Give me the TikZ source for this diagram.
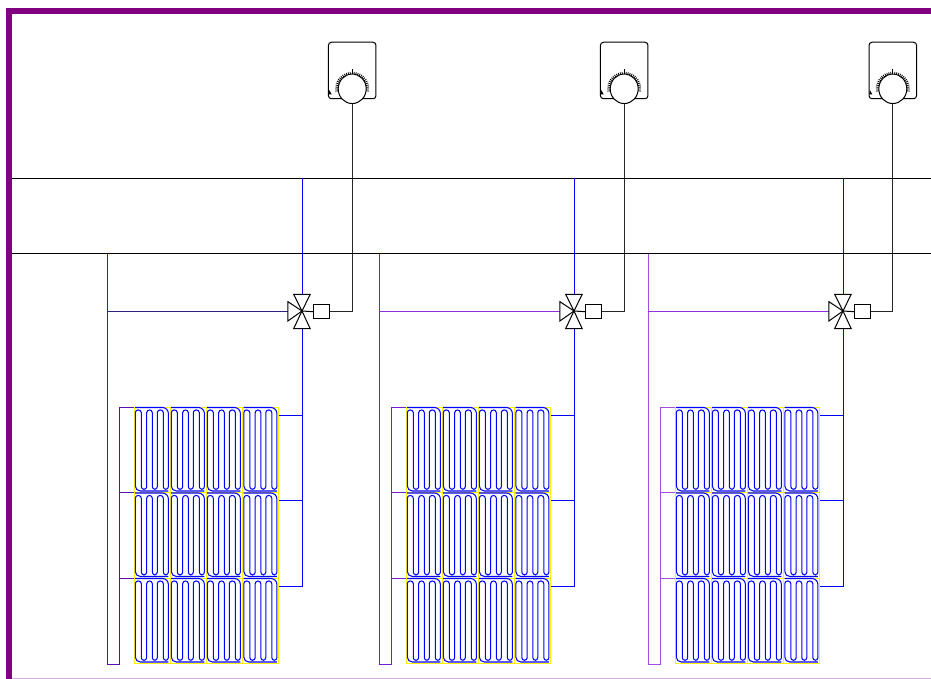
\documentclass[tikz,border=0pt]{standalone}
\usetikzlibrary{shapes.geometric}
\definecolor{frame}{HTML}{800080}
\definecolor{framelight}{HTML}{D8A8E8}
\definecolor{pipeblue}{HTML}{0000FF}
\definecolor{coilblue}{HTML}{0000FF}
\definecolor{mana}{HTML}{5A10B0}
\definecolor{manb}{HTML}{7020D0}
\definecolor{manc}{HTML}{A050E0}
\definecolor{feeda}{HTML}{302080}
\definecolor{feedb}{HTML}{9030E0}
\tikzset{
  busline/.style={black,line width=0.8pt},
  pipe/.style={pipeblue,line width=1.1pt},
  coil/.style={coilblue,line width=1.05pt},
  cellbox/.style={draw=yellow,line width=1pt},
  ctrl/.style={black!85,line width=1.15pt},
  valvepart/.style={draw=black,line width=1pt,fill=white},
  actuator/.style={draw=black,line width=1pt,fill=white,minimum width=16pt,minimum height=13.5pt,inner sep=0pt},
  statbox/.style={draw=black,line width=1pt,rounded corners=3pt,fill=white,minimum width=47.5pt,minimum height=56.5pt,inner sep=0pt},
  knob/.style={ellipse,draw=black,line width=1pt,fill=white,minimum width=28pt,minimum height=29.5pt,inner sep=0pt},
}
\newcommand{\coilcell}[2]{%
  \begin{scope}[shift={(#1,#2)}]
    \draw[cellbox] (0,0) rectangle (36,85.5);
    \draw[coil,line join=round]
      (34.4,84) [rounded corners=5pt] -- (1.3,84) [rounded corners=2.7pt]
      -- (1.3,3) -- (7.3,3) -- (7.3,82.3) -- (12.7,82.3) -- (12.7,3) -- (18.3,3)
      -- (18.3,82.3) -- (23.3,82.3) -- (23.3,3) -- (29.3,3) -- (29.3,82.3)
      -- (34.4,82.3) [rounded corners=6pt] -- (34.4,0.5) -- (1,0.5);
  \end{scope}}
\begin{document}
\begin{tikzpicture}[x=1pt,y=-1pt]
  \useasboundingbox (0,0) rectangle (931,679);
  \fill[white] (0,0) rectangle (931,679);
  % frame
  \coordinate (frameTL) at (9,11);
  \coordinate (frameTR) at (931,11);
  \coordinate (frameBL) at (9,679);
  \coordinate (bottomL) at (12,678.3);
  \coordinate (bottomR) at (931,678.3);
  \draw[framelight,line width=1pt] (bottomL) -- (bottomR);
  % bus lines
  \coordinate (busAL) at (12,178);
  \coordinate (busAR) at (931,178);
  \coordinate (busBL) at (12,253.5);
  \coordinate (busBR) at (931,253.5);
  \draw[busline] (busAL) -- (busAR);
  \draw[busline] (busBL) -- (busBR);
  \foreach \i/\dx/\tdx/\mancol/\feedcol in {1/0/0/mana/feeda,2/272/272/manb/feedb,3/541/540.6/manc/feedb}{
    \begin{scope}[xshift=\dx pt]
      % named points
      \coordinate (supTop\i) at (107.3,253.5);
      \coordinate (supBot\i) at (107.3,664.5);
      \coordinate (retBot\i) at (119.7,664.5);
      \coordinate (retTop\i) at (119.7,407.4);
      \coordinate (row1L\i) at (134,407.4);
      \coordinate (ret2\i) at (119.7,492.5);
      \coordinate (row2L\i) at (134,492.5);
      \coordinate (ret3\i) at (119.7,578.5);
      \coordinate (row3L\i) at (134,578.5);
      \coordinate (feed\i) at (107.3,311.7);
      \coordinate (riserTop\i) at (302.4,178);
      \coordinate (vc\i) at (302,311);
      \coordinate (vTop\i) at (302.4,294.3);
      \coordinate (vBot\i) at (302.4,328.7);
      \coordinate (vLeft\i) at (287.7,311.7);
      \coordinate (m1\i) at (302.4,415.5);
      \coordinate (m2\i) at (302.4,500.5);
      \coordinate (m3\i) at (302.4,586.5);
      \coordinate (o1\i) at (278.5,415.5);
      \coordinate (o2\i) at (278.5,500.5);
      \coordinate (o3\i) at (278.5,586.5);
      % supply and return manifold
      \draw[\mancol,line width=1.05pt,line join=miter] (supTop\i) -- (supBot\i) -- (retBot\i) -- (retTop\i) -- (row1L\i);
      \draw[\mancol,line width=1.05pt] (ret2\i) -- (row2L\i);
      \draw[\mancol,line width=1.05pt] (ret3\i) -- (row3L\i);
      \draw[\feedcol,line width=1.05pt] (feed\i) -- (vLeft\i);
      % coil grid
      \foreach \cx in {134,170,206,242.5}{
        \foreach \cy in {407,492.5,578}{
          \coilcell{\cx}{\cy}
        }
      }
      % blue riser and branches
      \draw[pipe] (riserTop\i) -- (vTop\i);
      \draw[pipe] (vBot\i) -- (m1\i) -- (m2\i) -- (m3\i) -- (o3\i);
      \draw[pipe] (m1\i) -- (o1\i);
      \draw[pipe] (m2\i) -- (o2\i);
      % valve
      \draw[valvepart,line join=miter] (293.6,294.3) -- (310.2,294.3) -- (vc\i) -- cycle;
      \draw[valvepart,line join=miter] (293.6,328.7) -- (310.2,328.7) -- (vc\i) -- cycle;
      \draw[valvepart,line join=miter] (287.9,301.7) -- (287.9,321) -- (vc\i) -- cycle;
      \fill[black] (vc\i) circle (1.1pt);
      \node[actuator] (act\i) at (321.6,311.7) {};
      \draw[black,line width=1pt] (vc\i) -- (act\i.west);
    \end{scope}
    \begin{scope}[xshift=\tdx pt]
      % thermostat
      \node[statbox] (stat\i) at (352.2,70.5) {};
      \fill[black] (328.6,94.5) -- (331.8,94.5) -- (329.2,90) -- cycle;
      \foreach \a in {-188,-181,...,8}{
        \draw[black,line width=0.8pt] (352.2,88.8) ++(\a:14) -- ++(\a:3);
      }
      \draw[black,line width=0.8pt] (352.2,74.5) -- (352.2,69.3);
      \node[knob] (knob\i) at (352.2,88.8) {};
      \coordinate (bend\i) at (352.2,311.7);
    \end{scope}
    \draw[ctrl] (act\i.east) -- (bend\i) -- (knob\i.south);
  }
  % heavy frame on top
  \draw[frame,line width=6.3pt] (frameBL) -- (frameTL) -- (frameTR);
\end{tikzpicture}
\end{document}
